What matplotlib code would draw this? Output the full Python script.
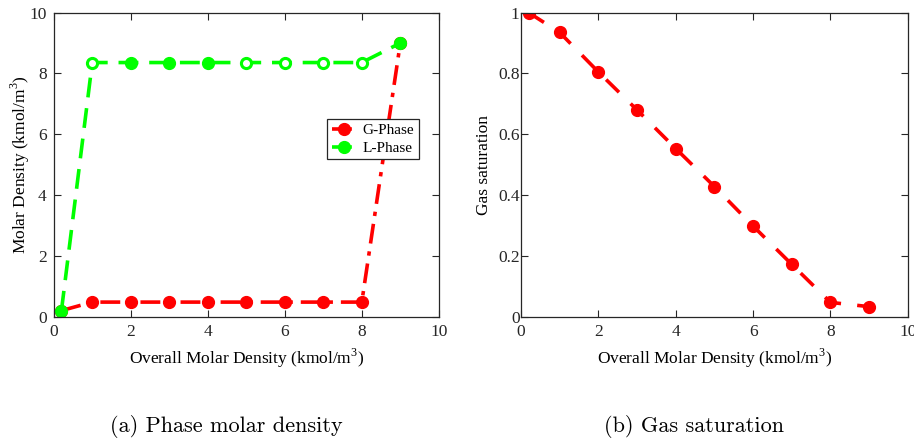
import matplotlib
matplotlib.use("Agg")
import matplotlib.pyplot as plt

plt.rcParams['font.family'] = ['Liberation Serif', 'DejaVu Serif']
plt.rcParams['mathtext.fontset'] = 'custom'
plt.rcParams['mathtext.rm'] = 'Liberation Serif'

# data
x_overall = [0.2, 1, 2, 3, 4, 5, 6, 7, 8, 9]
rho_gas = [0.2, 0.48, 0.48, 0.48, 0.48, 0.48, 0.48, 0.48, 0.48, 9.0]
rho_liq = [0.2, 8.36, 8.36, 8.36, 8.36, 8.36, 8.36, 8.36, 8.36, 9.0]
liq_hollow = [False, True, False, False, False, True, True, True, True, False]
sat_gas = [1.0, 0.935, 0.805, 0.68, 0.553, 0.428, 0.298, 0.172, 0.047, 0.033]

xticks = [0, 2, 4, 6, 8, 10]
yticks_a = [0, 2, 4, 6, 8, 10]
yticks_b = [0, 0.2, 0.4, 0.6, 0.8, 1]
yticklabels_b = ['0', '0.2', '0.4', '0.6', '0.8', '1']

red = '#ff0000'
green = '#00ff00'
axcol = '#262626'

fig = plt.figure(figsize=(9.14, 4.42), dpi=100)
ax1 = fig.add_axes([0.0588, 0.2835, 0.4213, 0.6878])
ax2 = fig.add_axes([0.570, 0.2835, 0.4233, 0.6878])

# (a) phase molar density
ax1.plot(x_overall, rho_gas, color=red, lw=2.6, dashes=(5.5, 2.2, 1.2, 2.2),
         marker='o', ms=8.5, mfc=red, mec=red, label='G-Phase')
ax1.plot(x_overall, rho_liq, color=green, lw=2.6, dashes=(5.5, 3.0),
         marker='o', ms=8.5, mfc=green, mec=green, label='L-Phase')
# a few L-phase markers show a hollow centre in the reference
for xv, yv, h in zip(x_overall, rho_liq, liq_hollow):
    if h:
        ax1.plot(xv, yv, 'o', ms=4, mfc='white', mec='white', zorder=5)

leg = ax1.legend(loc='upper right', bbox_to_anchor=(0.948, 0.65), fontsize=11,
                 handlelength=1.6, handletextpad=0.4, borderpad=0.3,
                 labelspacing=0.25, fancybox=False, edgecolor=axcol,
                 framealpha=1, borderaxespad=0)
leg.get_frame().set_linewidth(0.9)

ax1.set_xlim(0, 10)
ax1.set_ylim(0, 10)
ax1.set_xticks(xticks)
ax1.set_yticks(yticks_a)
ax1.set_xlabel('Overall Molar Density (kmol/m$^3$)', fontsize=12.5, labelpad=5)
ax1.set_ylabel('Molar Density (kmol/m$^3$)', fontsize=12.5, labelpad=-2)

# (b) gas saturation
ax2.plot(x_overall, sat_gas, color=red, lw=2.6, dashes=(5.0, 4.5),
         marker='o', ms=8.5, mfc=red, mec=red)
ax2.set_xlim(0, 10)
ax2.set_ylim(0, 1)
ax2.set_xticks(xticks)
ax2.set_yticks(yticks_b)
ax2.set_yticklabels(yticklabels_b)
ax2.set_xlabel('Overall Molar Density (kmol/m$^3$)', fontsize=12.5, labelpad=5)
ax2.set_ylabel('Gas saturation', fontsize=12.5, labelpad=4)

for ax in (ax1, ax2):
    ax.tick_params(direction='in', top=True, right=True, length=5,
                   width=0.8, labelsize=12.5, colors=axcol, pad=5)
    for s in ax.spines.values():
        s.set_color(axcol)
        s.set_linewidth(0.9)
ax2.tick_params(axis='y', pad=1)

fig.text(226 / 914, 1 - 427 / 442, '(a) Phase molar density', family='cmr10',
         fontsize=16, ha='center', va='center')
fig.text(694 / 914, 1 - 427 / 442, '(b) Gas saturation', family='cmr10',
         fontsize=16, ha='center', va='center')

fig.savefig('out.png', dpi=100)
